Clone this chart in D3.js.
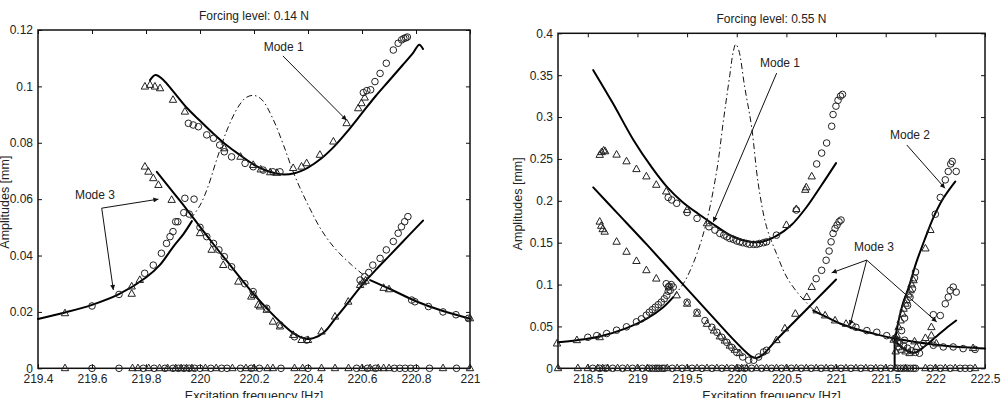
<!DOCTYPE html>
<html><head><meta charset="utf-8">
<script src="https://cdn.jsdelivr.net/npm/d3@7"></script>
<style>
body{margin:0;background:#fff}
svg{display:block}
text{font-family:"Liberation Sans",Arial,Helvetica,sans-serif;fill:#222}
</style>
</head><body>
<svg id="chart" width="1003" height="398"></svg>
<script>
// ---------------- LEFT PANEL DATA (0.14 N) ----------------
const L_title = "Forcing level: 0.14 N";
const L_xTicks = [219.4,219.6,219.8,220,220.2,220.4,220.6,220.8,221];
const L_xTickLabels = ["219.4","219.6","219.8","220","220.2","220.4","220.6","220.8","221"];
const L_yTicks = [0,0.02,0.04,0.06,0.08,0.1,0.12];
const L_yTickLabels = ["0","0.02","0.04","0.06","0.08","0.1","0.12"];

const L_mode1 = [[219.815,0.1022],[219.835,0.104],[219.865,0.1022],[219.9,0.0983],[219.95,0.0925],[220.0,0.0878],[220.05,0.0832],[220.1,0.079],[220.15,0.0755],[220.2,0.0722],[220.25,0.07],[220.3,0.0688],[220.35,0.0692],[220.4,0.0712],[220.45,0.0745],[220.5,0.079],[220.55,0.0845],[220.6,0.0905],[220.65,0.0965],[220.7,0.102],[220.75,0.1075],[220.79,0.112],[220.812,0.1148],[220.826,0.1133]];
const L_mode3V = [[219.84,0.0697],[219.9,0.0625],[219.95,0.0565],[220.0,0.0502],[220.05,0.044],[220.1,0.038],[220.15,0.032],[220.2,0.0262],[220.25,0.021],[220.3,0.0162],[220.35,0.0122],[220.39,0.0105],[220.42,0.0107],[220.46,0.0128],[220.5,0.0175],[220.55,0.0235],[220.6,0.0295],[220.65,0.0348],[220.7,0.0398],[220.75,0.0448],[220.8,0.0498],[220.826,0.0524]];
const L_mode3L = [[219.4,0.0175],[219.5,0.0198],[219.6,0.0225],[219.7,0.0263],[219.8,0.0322],[219.85,0.0365],[219.9,0.043],[219.94,0.0478],[219.97,0.0522]];
const L_mode3R = [[220.63,0.0313],[220.7,0.0283],[220.8,0.0238],[220.9,0.0203],[221.0,0.0176]];
const L_unstable = [[219.965,0.053],[220.0,0.0578],[220.03,0.0645],[220.06,0.0735],[220.1,0.0845],[220.14,0.0925],[220.17,0.096],[220.2,0.0968],[220.23,0.0952],[220.27,0.0885],[220.31,0.079],[220.35,0.0685],[220.4,0.058],[220.45,0.049],[220.5,0.0425],[220.56,0.0368],[220.62,0.032]];

const L_circles = [[219.6,0.0221],[219.7,0.0262],[219.795,0.0337],[219.827,0.0366],[219.857,0.0408],[219.876,0.0443],[219.889,0.0467],[219.9,0.0485],[219.91,0.052],[219.918,0.052],[219.94,0.0552],[219.96,0.0547],[219.944,0.0603],[219.978,0.06],
 [220.0,0.05],[220.025,0.0467],[220.05,0.0443],[220.07,0.042],[220.09,0.0396],[220.117,0.036],[220.166,0.03],[220.197,0.0272],[220.247,0.0213],[220.296,0.0154],[220.35,0.0112],[220.395,0.01],
 [220.593,0.0313],[220.61,0.0325],[220.625,0.034],[220.64,0.0366],[220.667,0.039],[220.69,0.042],[220.716,0.045],[220.734,0.0479],[220.746,0.0502],[220.758,0.052],[220.77,0.0538],
 [220.784,0.0242],[220.796,0.0236],[220.846,0.0219],[220.9,0.02],[220.948,0.019],[220.994,0.0177],
 [219.957,0.0869],[219.975,0.0863],[219.994,0.0857],[220.025,0.0828],[220.05,0.0816],[220.073,0.0792],[220.09,0.0768],[220.117,0.075],[220.167,0.0727],[220.197,0.0715],[220.234,0.0703],[220.27,0.0697],[220.296,0.0697],
 [220.605,0.0978],[220.618,0.0985],[220.632,0.0988],[220.648,0.1017],[220.667,0.1046],[220.69,0.1082],[220.716,0.1129],[220.734,0.1153],[220.747,0.1165],[220.755,0.117],[220.762,0.1172],[220.768,0.1175]];
const L_triangles = [[219.796,0.0999],[219.815,0.1005],[219.833,0.0999],[219.852,0.0993],[219.9,0.0952],[219.944,0.091],[220.09,0.078],[220.15,0.075],[220.197,0.0721],[220.225,0.0705],[220.26,0.0695],[220.285,0.0693],[220.345,0.071],[220.376,0.0715],[220.395,0.0727],[220.444,0.0757],[220.494,0.0804],[220.543,0.0869],[220.586,0.0922],[220.598,0.094],[220.61,0.096],
 [219.796,0.0715],[219.809,0.0697],[219.827,0.0674],[219.846,0.065],[219.895,0.0597],[220.0,0.0479],[220.043,0.042],[220.086,0.0366],[220.142,0.0307],[220.19,0.0254],[220.2,0.026],[220.216,0.0225],[220.222,0.0219],[220.247,0.0207],[220.27,0.0165],[220.296,0.0148],[220.345,0.0118],[220.376,0.01],[220.4,0.01],[220.45,0.013],[220.5,0.0183],[220.549,0.0236],[220.593,0.0295],[220.603,0.0305],[220.613,0.031],
 [219.5,0.0195],[219.747,0.029],[219.747,0.0264],[219.777,0.0313],
 [220.68,0.0285],[220.7,0.028],[221.0,0.0177]];
const L_zeroCircles = [219.6,219.7,219.79,219.83,219.87,219.9,219.92,219.94,219.96,219.98,220.0,220.04,220.08,220.1,220.15,220.19,220.22,220.3,220.4,220.58,220.62,220.65,220.72,220.74,220.76,220.78,220.8,220.85,220.95];
const L_zeroTriangles = [219.5,219.75,219.77,219.81,219.85,219.88,219.91,219.93,219.95,219.97,220.02,220.06,220.12,220.17,220.2,220.25,220.27,220.35,220.38,220.45,220.5,220.55,220.6,220.63,220.66,220.68,220.7,220.9,221.0];
const L_notes = [
  {text:"Mode 1", at:[220.31,0.1138], from:[220.307,0.1108], to:[[220.543,0.088]]},
  {text:"Mode 3", at:[219.611,0.0615], from:[219.636,0.0568], to:[[219.846,0.06],[219.679,0.0278]]}
];

// ---------------- RIGHT PANEL DATA (0.55 N) ----------------
const R_title = "Forcing level: 0.55 N";
const R_xTicks = [218.5,219,219.5,220,220.5,221,221.5,222,222.5];
const R_xTickLabels = ["218.5","219","219.5","220","220.5","221","221.5","222","222.5"];
const R_yTicks = [0,0.05,0.1,0.15,0.2,0.25,0.3,0.35,0.4];
const R_yTickLabels = ["0","0.05","0.1","0.15","0.2","0.25","0.3","0.35","0.4"];

const R_mode1 = [[218.555,0.356],[218.75,0.317],[218.958,0.273],[219.15,0.239],[219.295,0.217],[219.45,0.199],[219.63,0.183],[219.764,0.172],[219.95,0.158],[220.133,0.151],[220.25,0.151],[220.4,0.158],[220.55,0.171],[220.7,0.192],[220.85,0.218],[221.0,0.245]];
const R_mode3V = [[218.555,0.216],[218.8,0.185],[219.1,0.147],[219.445,0.102],[219.764,0.0605],[219.965,0.0345],[220.1,0.0185],[220.15,0.0138],[220.2,0.0122],[220.26,0.016],[220.4,0.034],[220.6,0.058],[220.8,0.082],[221.0,0.106]];
const R_mode3L = [[218.2,0.031],[218.39,0.0335],[218.62,0.038],[218.89,0.048],[219.09,0.059],[219.26,0.073],[219.36,0.085]];
const R_unstable = [[219.36,0.085],[219.45,0.099],[219.5,0.109],[219.6,0.137],[219.7,0.177],[219.8,0.237],[219.865,0.295],[219.93,0.35],[219.965,0.378],[219.99,0.387],[220.02,0.38],[220.08,0.336],[220.15,0.288],[220.217,0.22],[220.3,0.169],[220.4,0.137],[220.503,0.109],[220.62,0.089],[220.705,0.078],[220.77,0.07]];
const R_mode3R = [[220.77,0.069],[220.89,0.062],[221.04,0.0535],[221.2,0.047],[221.375,0.0415],[221.59,0.0355],[221.8,0.0315],[222.05,0.0275],[222.3,0.025],[222.5,0.0235]];
const R_drop = [[221.59,0.0355],[221.59,0]];
const R_mode2 = [[221.59,0.03],[221.61,0.045],[221.64,0.062],[221.68,0.08],[221.73,0.096],[221.81,0.127],[221.9,0.156],[221.98,0.18],[222.08,0.203],[222.2,0.223]];
const R_mode3V2 = [[221.6,0.032],[221.7,0.022],[221.79,0.0185],[221.9,0.027],[222.0,0.037],[222.1,0.047],[222.21,0.057]];

const R_triangles = [[218.62,0.2547],[218.64,0.258],[218.66,0.26],[218.675,0.259],[218.79,0.255],[218.89,0.247],[218.99,0.2377],[219.09,0.229],[219.19,0.219],[219.29,0.211],[219.5,0.189],[219.7,0.173],[220.5,0.171],[220.6,0.19],[220.69,0.213],[220.7,0.216],[220.755,0.229],
 [218.62,0.175],[218.635,0.17],[218.65,0.166],[218.67,0.163],[218.79,0.151],[218.89,0.139],[218.99,0.128],[219.09,0.117],[219.19,0.107],[219.395,0.087],[219.5,0.077],[219.6,0.065],[219.7,0.053],[219.77,0.045],[219.83,0.038],[219.88,0.033],[219.93,0.027],[219.98,0.022],[220.03,0.018],[220.4,0.0335],[220.485,0.0475],[220.59,0.065],[220.705,0.085],[220.755,0.097],
 [218.19,0.0295],[218.39,0.0335],[218.62,0.037],
 [220.805,0.069],[220.89,0.063],[220.99,0.057],[221.1,0.053],[221.58,0.034],[221.79,0.032],[222.01,0.0295],[222.38,0.024],
 [221.61,0.0395],[221.63,0.049],[221.65,0.057],[221.67,0.065],[221.68,0.071],[221.7,0.077],[221.71,0.081],[221.73,0.088],[221.75,0.093],[221.76,0.1],[221.78,0.105],[221.9,0.143],[221.95,0.165],
 [221.6,0.02],[221.63,0.025],[221.66,0.022],[221.7,0.02],[221.74,0.018],[221.81,0.0255],[221.9,0.036],[221.96,0.039],[221.96,0.049]];
const R_circles = [[219.31,0.204],[219.345,0.201],[219.395,0.197],[219.5,0.186],[219.6,0.179],[219.72,0.169],[219.78,0.165],[219.83,0.161],[219.87,0.159],[219.9,0.157],[219.93,0.155],[219.965,0.154],[220.0,0.152],[220.03,0.151],[220.06,0.15],[220.1,0.149],[220.13,0.148],[220.17,0.148],[220.2,0.148],[220.23,0.149],[220.27,0.15],[220.3,0.151],[220.4,0.159],[220.6,0.189],[220.805,0.244],[220.855,0.257],[220.905,0.269],[220.956,0.289],[220.97,0.303],[220.999,0.313],[221.02,0.32],[221.045,0.325],[221.065,0.327],
 [219.29,0.101],[219.31,0.097],[219.33,0.093],[219.5,0.079],[219.6,0.067],[219.68,0.057],[219.75,0.049],[219.8,0.043],[219.85,0.037],[219.9,0.031],[219.95,0.025],[220.0,0.019],[220.06,0.0135],[220.12,0.0096],[220.17,0.0096],[220.22,0.0135],[220.27,0.0195],[220.3,0.0215],[220.8,0.107],[220.855,0.117],[220.9,0.129],[220.93,0.14],[220.95,0.151],[220.97,0.161],[220.99,0.167],[221.01,0.171],[221.03,0.175],[221.05,0.177],
 [218.59,0.039],[218.69,0.0415],[218.79,0.0455],[218.89,0.0495],[218.99,0.0555],[219.04,0.059],[219.09,0.0635],[219.12,0.067],[219.15,0.07],[219.18,0.073],[219.21,0.076],[219.24,0.079],[219.27,0.083],[219.295,0.087],[219.31,0.092],[219.32,0.098],[219.34,0.1],[219.36,0.097],[218.5,0.037],
 [221.16,0.051],[221.2,0.049],[221.31,0.045],[221.41,0.043],[221.51,0.039],[221.59,0.0355],[221.69,0.0335],[221.88,0.0295],[221.98,0.0275],[222.08,0.0255],[222.18,0.0255],[222.28,0.0235],[222.4,0.0225],
 [221.62,0.03],[221.66,0.045],[221.69,0.06],[221.72,0.075],[221.745,0.085],[221.77,0.095],[221.79,0.108],[221.8,0.115],[222.0,0.184],[222.05,0.204],[222.1,0.225],[222.13,0.235],[222.155,0.244],[222.17,0.247],[222.21,0.235],
 [221.6,0.035],[221.64,0.03],[221.68,0.027],[221.72,0.024],[221.76,0.021],[221.8,0.019],[221.84,0.018],[221.98,0.064],[222.05,0.063],[222.1,0.077],[222.13,0.085],[222.15,0.093],[222.18,0.097],[222.21,0.091]];
const R_zeroTriangles = [218.2,218.4,218.5,218.6,218.65,218.7,218.8,218.9,219.0,219.1,219.3,219.4,219.5,219.6,219.7,219.8,219.9,220.0,220.05,220.1,220.2,220.3,220.4,220.5,220.6,220.7,220.8,220.9,221.0,221.1,221.2,221.3,221.4,221.5,221.6,221.7,221.9,222.0,222.1,222.2,222.4];
const R_zeroCircles = [218.55,218.62,218.68,218.75,218.85,218.95,219.05,219.12,219.15,219.18,219.2,219.22,219.25,219.27,219.35,219.45,219.55,219.65,219.75,219.85,219.95,220.02,220.08,220.15,220.25,220.35,220.45,220.55,220.65,220.75,220.85,220.95,221.05,221.15,221.25,221.35,221.45,221.55,221.62,221.65,221.68,221.72,221.75,221.78,221.8,221.95,222.05,222.15,222.25,222.3,222.35];
const R_notes = [
  {text:"Mode 1", at:[220.436,0.3648], from:[220.402,0.3525], to:[[219.764,0.1746]]},
  {text:"Mode 2", at:[221.745,0.2787], from:[221.712,0.2667], to:[[222.097,0.215]]},
  {text:"Mode 3", at:[221.382,0.1447], from:[221.309,0.1292], to:[[220.956,0.114],[221.14,0.0514],[222.014,0.0554]]}
];

// ---------------- DRAWING ----------------
const svg = d3.select("#chart");
const defs = svg.append("defs");
defs.append("marker").attr("id","ah").attr("viewBox","0 0 10 10")
  .attr("refX",10).attr("refY",5).attr("markerWidth",7).attr("markerHeight",5)
  .attr("orient","auto").attr("markerUnits","userSpaceOnUse")
  .append("path").attr("d","M0,0L10,5L0,10Z").attr("fill","#111");

function drawPanel(p){
  const x = d3.scaleLinear().domain(p.xDomain).range([p.left,p.right]);
  const y = d3.scaleLinear().domain(p.yDomain).range([p.bottom,p.top]);
  const g = svg.append("g");
  const tf = labels => (d,i)=>labels[i];

  // axes (inward ticks on all four sides)
  g.append("g").attr("transform",`translate(0,${p.bottom})`)
    .call(d3.axisBottom(x).tickValues(p.xTicks).tickFormat(tf(p.xTickLabels)).tickSizeInner(-4).tickSizeOuter(0).tickPadding(5.7));
  g.append("g").attr("transform",`translate(0,${p.top})`)
    .call(d3.axisTop(x).tickValues(p.xTicks).tickFormat("").tickSizeInner(-4).tickSizeOuter(0));
  g.append("g").attr("transform",`translate(${p.left},0)`)
    .call(d3.axisLeft(y).tickValues(p.yTicks).tickFormat(tf(p.yTickLabels)).tickSizeInner(-4).tickSizeOuter(0).tickPadding(5));
  g.append("g").attr("transform",`translate(${p.right},0)`)
    .call(d3.axisRight(y).tickValues(p.yTicks).tickFormat("").tickSizeInner(-4).tickSizeOuter(0));
  g.selectAll(".domain").remove();
  g.selectAll(".tick line").attr("stroke","#111").attr("stroke-width",1);
  g.selectAll(".tick text").attr("font-size",12).attr("fill","#222")
    .attr("font-family",'"Liberation Sans",Arial,sans-serif');
  g.append("rect").attr("x",p.left).attr("y",p.top)
    .attr("width",p.right-p.left).attr("height",p.bottom-p.top)
    .attr("fill","none").attr("stroke","#111").attr("stroke-width",1.5);

  // titles / labels
  g.append("text").attr("x",(p.left+p.right)/2).attr("y",p.top-10)
    .attr("text-anchor","middle").attr("font-size",12).text(p.title);
  g.append("text").attr("x",(p.left+p.right)/2).attr("y",399.5)
    .attr("text-anchor","middle").attr("font-size",12.5).text("Excitation frequency [Hz]");
  g.append("text").attr("transform",`translate(${p.ylabX},${(p.top+p.bottom)/2+3}) rotate(-90)`)
    .attr("text-anchor","middle").attr("font-size",12.5).text("Amplitudes [mm]");

  const line = d3.line().x(d=>x(d[0])).y(d=>y(d[1])).curve(d3.curveCatmullRom.alpha(0.5));
  const lineStraight = d3.line().x(d=>x(d[0])).y(d=>y(d[1]));

  // unstable dash-dot
  g.append("path").attr("d",line(p.unstable)).attr("fill","none")
    .attr("stroke","#111").attr("stroke-width",1).attr("stroke-dasharray","6,3,1.5,3");
  // stable solid branches
  p.solids.forEach(s=>{
    g.append("path").attr("d",(s.length===2?lineStraight:line)(s)).attr("fill","none")
      .attr("stroke","#000").attr("stroke-width",2).attr("stroke-linejoin","round").attr("stroke-linecap","round");
  });

  // markers
  const triPath = (cx,cy)=>`M${cx},${cy-4.2}L${cx-3.7},${cy+2.4}L${cx+3.7},${cy+2.4}Z`;
  const zeroC = p.zeroCircles.map(f=>[f,0]);
  const zeroT = p.zeroTriangles.map(f=>[f,0]);
  g.append("g").selectAll("circle").data(p.circles.concat(zeroC)).join("circle")
    .attr("cx",d=>x(d[0])).attr("cy",d=>y(d[1])).attr("r",3.3)
    .attr("fill","none").attr("stroke","#222").attr("stroke-width",1);
  g.append("g").selectAll("path").data(p.triangles.concat(zeroT)).join("path")
    .attr("d",d=>triPath(x(d[0]),y(d[1])))
    .attr("fill","none").attr("stroke","#222").attr("stroke-width",1);

  // annotations
  p.notes.forEach(n=>{
    n.to.forEach(t=>{
      g.append("line").attr("x1",x(n.from[0])).attr("y1",y(n.from[1]))
        .attr("x2",x(t[0])).attr("y2",y(t[1]))
        .attr("stroke","#111").attr("stroke-width",1).attr("marker-end","url(#ah)");
    });
    g.append("text").attr("x",x(n.at[0])).attr("y",y(n.at[1])+4)
      .attr("text-anchor","middle").attr("font-size",12).text(n.text);
  });
}

drawPanel({
  xDomain:[219.4,221], yDomain:[0,0.12], left:38, right:470, top:30, bottom:368.3, ylabX:9,
  title:L_title, xTicks:L_xTicks, xTickLabels:L_xTickLabels, yTicks:L_yTicks, yTickLabels:L_yTickLabels,
  unstable:L_unstable, solids:[L_mode1,L_mode3V,L_mode3L,L_mode3R],
  circles:L_circles, triangles:L_triangles, zeroCircles:L_zeroCircles, zeroTriangles:L_zeroTriangles,
  notes:L_notes
});
drawPanel({
  xDomain:[218.2,222.5], yDomain:[0,0.4], left:558, right:985, top:33.3, bottom:368.3, ylabX:522,
  title:R_title, xTicks:R_xTicks, xTickLabels:R_xTickLabels, yTicks:R_yTicks, yTickLabels:R_yTickLabels,
  unstable:R_unstable, solids:[R_mode1,R_mode3V,R_mode3L,R_mode3R,R_drop,R_mode2,R_mode3V2],
  circles:R_circles, triangles:R_triangles, zeroCircles:R_zeroCircles, zeroTriangles:R_zeroTriangles,
  notes:R_notes
});
</script>
</body></html>
